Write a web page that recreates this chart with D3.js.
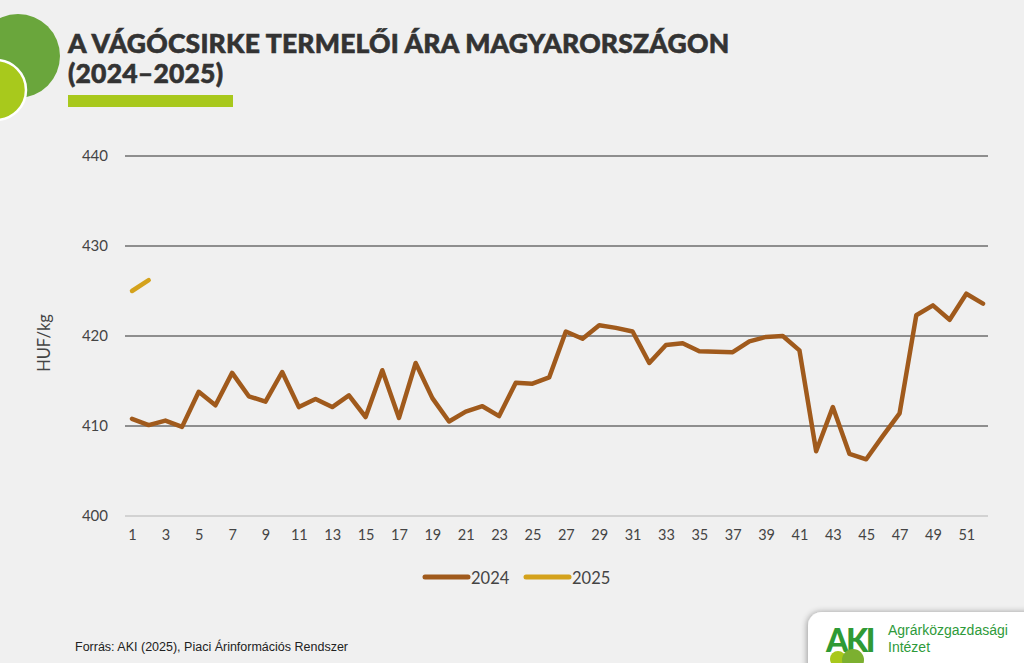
<!DOCTYPE html>
<html><head><meta charset="utf-8">
<script src="https://cdn.jsdelivr.net/npm/d3@7"></script>
<style>
html,body{margin:0;padding:0;background:#f0f0f0;}
svg{display:block;}
</style></head>
<body>
<svg id="c" width="1024" height="663"></svg>
<script>
const weeks = d3.range(1, 53);
const values2024 = [410.8,410.1,410.6,409.9,413.8,412.3,415.9,413.3,412.7,416.0,
 412.1,413.0,412.1,413.4,411.0,416.2,410.9,417.0,413.1,410.5,
 411.6,412.2,411.1,414.8,414.7,415.4,420.5,419.7,421.2,420.9,
 420.5,417.0,419.0,419.2,418.3,418.25,418.2,419.4,419.9,420.0,
 418.4,407.2,412.1,406.9,406.3,408.9,411.4,422.3,423.4,421.8,
 424.7,423.6];
const values2025 = [425.0, 426.2];
const yTicks = [400, 410, 420, 430, 440];
const xTickLabels = d3.range(1, 53, 2);
const seriesNames = ["2024", "2025"];
const seriesColors = ["#a05a1c", "#d4a21c"];

const svg = d3.select("#c");
const FONT = "Lato, 'Open Sans', sans-serif";

// decorative circles
svg.append("circle").attr("cx", 18).attr("cy", 56).attr("r", 42).attr("fill", "#6aa63c");
svg.append("circle").attr("cx", -4).attr("cy", 90).attr("r", 30).attr("fill", "#a8c91c")
  .attr("stroke", "#ffffff").attr("stroke-width", 2.5);

// title
const title = svg.append("text").attr("x", 68).attr("font-family", "Lato, sans-serif")
  .attr("font-weight", 900).attr("font-size", 26.5).attr("fill", "#333333")
  .attr("letter-spacing", 0.2).attr("stroke", "#333333").attr("stroke-width", 0.6);
title.append("tspan").attr("x", 68).attr("y", 53).text("A VÁGÓCSIRKE TERMELŐI ÁRA MAGYARORSZÁGON");
title.append("tspan").attr("x", 68).attr("y", 83).text("(2024–2025)");
svg.append("rect").attr("x", 68).attr("y", 95).attr("width", 165).attr("height", 12).attr("fill", "#a8c81c");

// scales
const x = d3.scaleLinear().domain([1, 52]).range([132, 983]);
const y = d3.scaleLinear().domain([400, 440]).range([516, 156]);

// gridlines
const grid = svg.append("g");
grid.selectAll("line").data(yTicks).join("line")
  .attr("x1", 125).attr("x2", 988)
  .attr("y1", d => y(d)).attr("y2", d => y(d))
  .attr("stroke", d => d === 400 ? "#c8c8c8" : "#6e6e6e").attr("stroke-width", 1.3);

// y axis labels
const yAxis = d3.axisLeft(y).tickValues(yTicks).tickSize(0).tickPadding(0).tickFormat(d3.format("d"));
const gy = svg.append("g").attr("transform", "translate(108,0)").call(yAxis);
gy.select(".domain").remove();
gy.selectAll("text").attr("font-family", FONT).attr("font-size", 15).attr("fill", "#444");

// x axis labels
const xAxis = d3.axisBottom(x).tickValues(xTickLabels).tickSize(0).tickPadding(0).tickFormat(d3.format("d"));
const gx = svg.append("g").attr("transform", "translate(0,530)").call(xAxis);
gx.select(".domain").remove();
gx.selectAll("text").attr("font-family", FONT).attr("font-size", 14.5).attr("fill", "#444");

// y label
svg.append("text").attr("transform", "translate(50,343) rotate(-90)")
  .attr("text-anchor", "middle").attr("font-family", FONT).attr("font-size", 16.5).attr("fill", "#444")
  .text("HUF/kg");

// lines
const line = d3.line().x((d, i) => x(i + 1)).y(d => y(d));
[values2024, values2025].forEach((vals, i) => {
  svg.append("path").datum(vals).attr("d", line).attr("fill", "none")
    .attr("stroke", seriesColors[i]).attr("stroke-width", 4.5)
    .attr("stroke-linejoin", "round").attr("stroke-linecap", "round");
});

// legend
const legendX = [425, 526];
seriesNames.forEach((n, i) => {
  svg.append("line").attr("x1", legendX[i]).attr("x2", legendX[i] + 43)
    .attr("y1", 577).attr("y2", 577).attr("stroke", seriesColors[i])
    .attr("stroke-width", 5).attr("stroke-linecap", "round");
  svg.append("text").attr("x", legendX[i] + 46).attr("y", 583.5)
    .attr("font-family", FONT).attr("font-size", 16.5).attr("fill", "#444").text(n);
});

// source
svg.append("text").attr("x", 75).attr("y", 651).attr("font-family", "'Liberation Sans', 'Open Sans', sans-serif")
  .attr("font-size", 12.5).attr("fill", "#222").text("Forrás: AKI (2025), Piaci Árinformációs Rendszer");

// logo box
const defs = svg.append("defs");
const f = defs.append("filter").attr("id", "sh").attr("x", "-10%").attr("y", "-30%").attr("width", "120%").attr("height", "160%");
f.append("feGaussianBlur").attr("in", "SourceAlpha").attr("stdDeviation", 3);
f.append("feOffset").attr("dx", -1).attr("dy", 0).attr("result", "b");
f.append("feComponentTransfer").append("feFuncA").attr("type", "linear").attr("slope", 0.35);
const m = f.append("feMerge"); m.append("feMergeNode"); m.append("feMergeNode").attr("in", "SourceGraphic");
svg.append("rect").attr("x", 808).attr("y", 612).attr("width", 240).attr("height", 70).attr("rx", 14)
  .attr("fill", "#ffffff").attr("filter", "url(#sh)");

// logo mark
const lg = svg.append("g");
lg.append("text").attr("x", 826).attr("y", 652).attr("font-family", "Lato, sans-serif").attr("font-weight", 900)
  .attr("font-size", 32).attr("fill", "#2f9a35").attr("letter-spacing", -2.5).text("AKI");
lg.append("circle").attr("cx", 838).attr("cy", 659).attr("r", 8).attr("fill", "#a8c81c");
lg.append("circle").attr("cx", 853).attr("cy", 660).attr("r", 11).attr("fill", "#7cb030");
svg.append("text").attr("x", 888).attr("y", 635).attr("font-family", "'Liberation Sans', Arial, sans-serif")
  .attr("font-size", 14).attr("fill", "#2e9a3a").text("Agrárközgazdasági");
svg.append("text").attr("x", 888).attr("y", 652).attr("font-family", "'Liberation Sans', Arial, sans-serif")
  .attr("font-size", 14).attr("fill", "#2e9a3a").text("Intézet");
</script>
</body></html>
